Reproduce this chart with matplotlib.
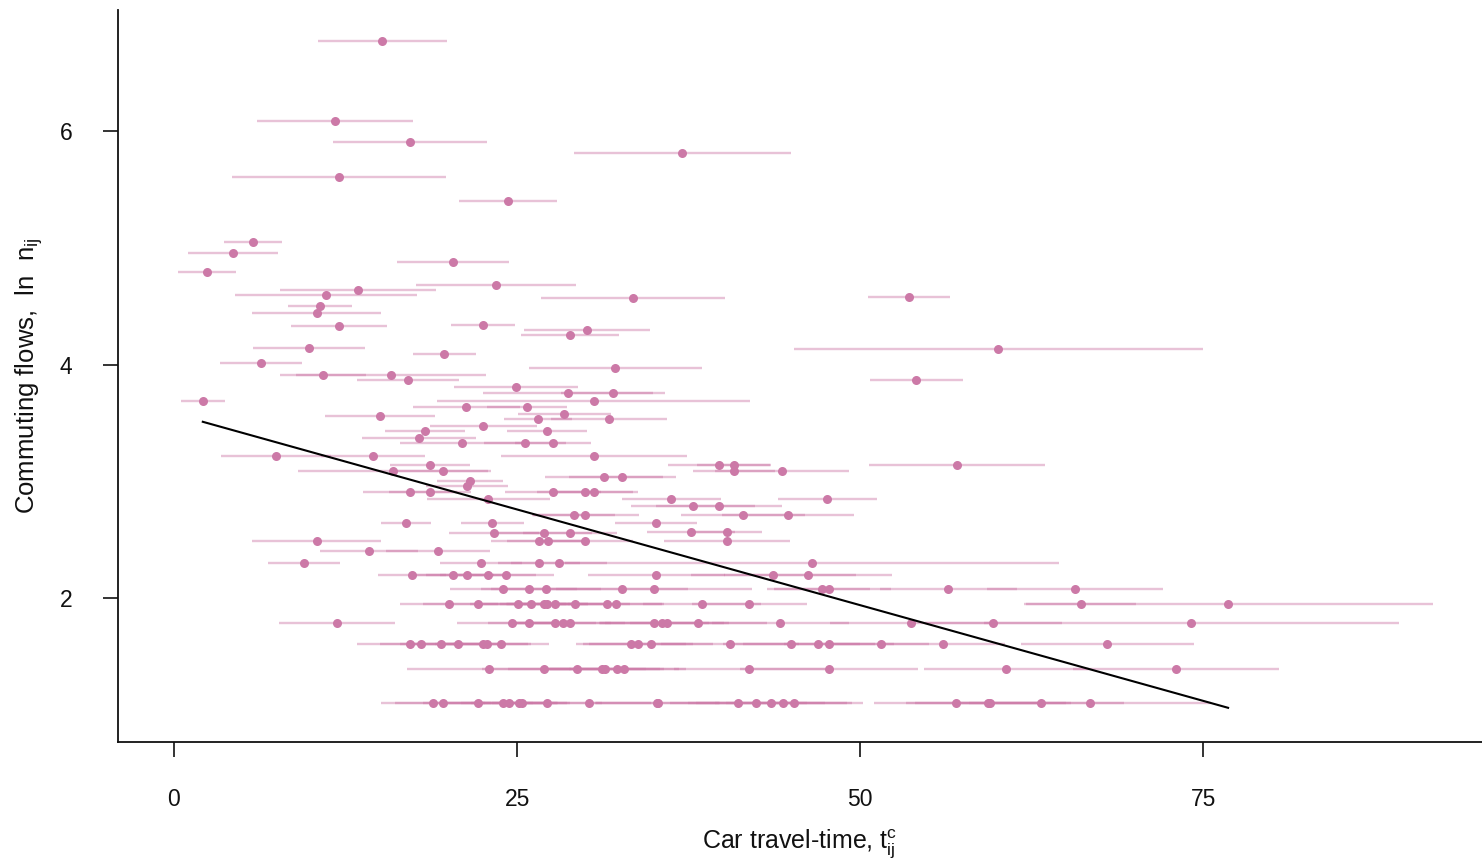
import matplotlib
matplotlib.use("Agg")
import matplotlib.pyplot as plt
from matplotlib.colors import to_rgba

plt.rcParams['font.family'] = ['Liberation Sans', 'DejaVu Sans']
plt.rcParams['mathtext.fontset'] = 'custom'
plt.rcParams['mathtext.rm'] = 'Liberation Sans'
plt.rcParams['mathtext.it'] = 'Liberation Sans'
plt.rcParams['mathtext.default'] = 'regular'

# ---- data ----
travel_time = [
    15.16, 11.73, 17.2, 12.03, 37.03, 24.34, 5.76, 4.30, 20.33, 2.41,
    23.47, 13.41, 11.08, 33.45, 53.57, 60.06, 54.08, 57.07, 10.64, 10.42,
    12.03, 22.52, 9.84, 19.68, 6.34, 10.86, 15.82, 17.06, 2.11, 21.28,
    30.1, 28.86, 32.14, 24.93, 28.72, 32.0, 30.6, 25.73, 28.43, 26.53,
    31.7, 22.52, 27.19, 25.58, 27.62, 30.61, 39.72, 40.82, 40.82, 44.3,
    31.34, 32.65, 15.01, 18.29, 17.86, 20.99, 7.43, 14.5, 15.96, 18.66,
    19.6, 21.57, 21.36, 17.2, 18.66, 22.9, 27.62, 29.96, 30.61, 36.22,
    47.6, 37.83, 39.72, 29.15, 29.96, 41.47, 44.75, 23.18, 35.13, 16.9,
    23.32, 26.97, 28.86, 37.68, 40.31, 26.6, 27.26, 29.96, 40.31, 10.42,
    14.21, 19.24, 9.48, 22.38, 26.6, 28.06, 46.5,
    17.35, 20.34, 21.36, 22.89, 24.2, 35.13, 43.66, 46.2,
    23.98, 25.87, 27.11, 32.65, 34.99, 47.23, 47.74, 56.41, 65.67,
    20.04, 22.16, 25.07, 26.02, 26.97, 27.19, 27.77, 29.23, 31.56, 32.22,
    38.48, 41.91, 66.11, 76.82,
    11.88, 24.64, 25.87, 27.77, 28.35, 28.86, 34.99, 35.57, 35.93, 38.19,
    44.17, 53.72, 59.69, 74.13,
    17.2, 18.0, 19.46, 20.7, 22.52, 22.81, 23.83, 33.31, 33.82, 34.77,
    40.52, 44.97, 46.94, 47.74, 51.53, 56.05, 68.0,
    22.96, 26.97, 29.37, 31.2, 31.41, 32.29, 32.8, 41.91, 47.74, 60.64, 73.03,
    18.88, 19.61, 22.16, 23.98, 24.42, 25.15, 25.36, 27.19, 30.25, 35.2,
    35.28, 41.11, 42.42, 43.51, 44.39, 45.19, 57.0, 59.33, 59.48, 63.19, 66.76,
]
ln_flow = [
    6.77, 6.09, 5.91, 5.61, 5.81, 5.40, 5.05, 4.96, 4.88, 4.79,
    4.68, 4.64, 4.60, 4.57, 4.58, 4.13, 3.87, 3.14, 4.50, 4.44,
    4.33, 4.34, 4.14, 4.09, 4.01, 3.91, 3.91, 3.87, 3.69, 3.64,
    4.30, 4.25, 3.97, 3.81, 3.76, 3.76, 3.69, 3.64, 3.58, 3.53,
    3.53, 3.47, 3.43, 3.33, 3.33, 3.22, 3.14, 3.14, 3.09, 3.09,
    3.04, 3.04, 3.56, 3.43, 3.37, 3.33, 3.22, 3.22, 3.09, 3.14,
    3.09, 3.00, 2.96, 2.91, 2.91, 2.85, 2.91, 2.91, 2.91, 2.85,
    2.85, 2.79, 2.79, 2.71, 2.71, 2.71, 2.71, 2.64, 2.64, 2.64,
    2.56, 2.56, 2.56, 2.57, 2.57, 2.49, 2.49, 2.49, 2.49, 2.49,
    2.40, 2.40, 2.30, 2.30, 2.30, 2.30, 2.30,
    2.20, 2.20, 2.20, 2.20, 2.20, 2.20, 2.20, 2.20,
    2.08, 2.08, 2.08, 2.08, 2.08, 2.08, 2.08, 2.08, 2.08,
    1.95, 1.95, 1.95, 1.95, 1.95, 1.95, 1.95, 1.95, 1.95, 1.95,
    1.95, 1.95, 1.95, 1.95,
    1.79, 1.79, 1.79, 1.79, 1.79, 1.79, 1.79, 1.79, 1.79, 1.79,
    1.79, 1.79, 1.79, 1.79,
    1.61, 1.61, 1.61, 1.61, 1.61, 1.61, 1.61, 1.61, 1.61, 1.61,
    1.61, 1.61, 1.61, 1.61, 1.61, 1.61, 1.61,
    1.39, 1.39, 1.39, 1.39, 1.39, 1.39, 1.39, 1.39, 1.39, 1.39, 1.39,
    1.10, 1.10, 1.10, 1.10, 1.10, 1.10, 1.10, 1.10, 1.10, 1.10,
    1.10, 1.10, 1.10, 1.10, 1.10, 1.10, 1.10, 1.10, 1.10, 1.10, 1.10,
]
time_err = [
    4.7, 5.65, 5.6, 7.8, 7.9, 3.6, 2.1, 3.3, 4.1, 2.1,
    5.8, 5.65, 6.6, 6.7, 3.0, 14.9, 3.4, 6.4, 2.3, 4.7,
    3.5, 2.3, 4.1, 2.3, 3.0, 3.1, 6.9, 3.7, 1.6, 3.9,
    4.6, 3.6, 6.3, 4.5, 6.2, 3.8, 11.4, 2.9, 3.4, 2.5,
    4.2, 3.9, 2.9, 3.0, 2.8, 6.8, 3.7, 2.7, 3.0, 4.9,
    4.3, 3.9, 4.0, 2.95, 4.15, 4.5, 4.0, 3.8, 6.9, 2.9,
    3.5, 2.4, 3.0, 3.4, 3.0, 4.5, 3.5, 3.5, 3.2, 3.6,
    3.6, 4.5, 4.6, 3.0, 3.9, 4.5, 4.8, 2.3, 3.0, 1.8,
    3.3, 3.5, 3.4, 3.2, 2.5, 3.5, 3.0, 3.5, 4.6, 4.7,
    3.6, 3.8, 2.6, 3.0, 3.0, 3.5, 18.0,
    2.5, 3.0, 3.0, 3.5, 3.5, 5.0, 6.0, 6.1,
    3.9, 3.5, 4.0, 4.8, 7.1, 3.5, 4.5, 5.0, 6.4,
    3.6, 4.0, 3.5, 3.5, 3.2, 3.0, 3.5, 4.0, 4.0, 3.5,
    4.3, 4.2, 4.0, 14.9,
    4.2, 4.0, 3.0, 3.0, 3.5, 4.0, 4.0, 4.5, 4.5, 5.0,
    5.0, 5.9, 5.0, 15.1,
    3.9, 3.0, 3.0, 3.5, 3.5, 3.0, 3.5, 4.0, 4.0, 4.5,
    5.0, 5.0, 5.5, 3.3, 3.5, 4.5, 6.3,
    6.0, 4.5, 5.0, 4.5, 4.0, 5.0, 4.0, 5.5, 6.5, 6.0, 7.5,
    3.8, 3.5, 4.0, 4.0, 3.5, 3.5, 3.5, 4.0, 4.5, 4.5,
    4.5, 5.0, 5.0, 5.5, 5.0, 5.0, 6.0, 6.0, 5.5, 6.0, 8.8,
]
fit_time = [2.1, 76.8]
fit_flow = [3.51, 1.06]

x_ticks = [0, 25, 50, 75]
y_ticks = [2, 4, 6]

point_color = '#CC79A7'
bar_color = to_rgba('#CC79A7', 0.45)

fig = plt.figure(figsize=(14.82, 8.61), dpi=100)
ax = fig.add_axes([0.0796, 0.1382, 0.9204, 0.850])

ax.errorbar(travel_time, ln_flow, xerr=time_err, fmt='none',
            ecolor=bar_color, elinewidth=1.7, capsize=0, zorder=1)
ax.plot(travel_time, ln_flow, 'o', color=point_color, markersize=6.5,
        markeredgewidth=0, zorder=2)
ax.plot(fit_time, fit_flow, color='black', linewidth=1.5, zorder=3)

ax.set_xlim(-4.08, 95.3)
ax.set_ylim(0.767, 7.036)
ax.set_xticks(x_ticks)
ax.set_yticks(y_ticks)
ax.set_xticklabels([str(t) for t in x_ticks])
ax.set_yticklabels([str(t) for t in y_ticks])

for s in ['top', 'right']:
    ax.spines[s].set_visible(False)
for s in ['left', 'bottom']:
    ax.spines[s].set_linewidth(1.3)
    ax.spines[s].set_color('#111111')

ax.tick_params(axis='both', length=11, width=1.2, color='#111111',
               labelsize=16.5, pad=22, labelcolor='#111111')

ax.set_xlabel(r'Car travel-time, $t_{ij}^{c}$', fontsize=18, labelpad=12,
              color='#111111')
ax.set_ylabel(r'Commuting flows,  ln  $n_{ij}$', fontsize=18.5, labelpad=10,
              color='#111111')

fig.savefig('out.png', dpi=100, facecolor='white')
